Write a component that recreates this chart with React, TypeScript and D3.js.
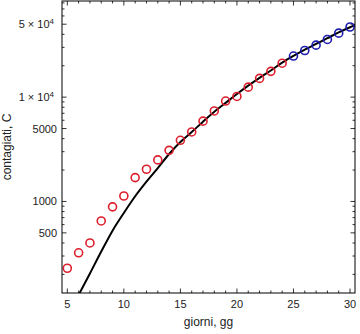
import React from "react";
import * as d3 from "d3";

const days = [5,6,7,8,9,10,11,12,13,14,15,16,17,18,19,20,21,22,23,24,25,26,27,28,29,30];
const cases = [229,322,400,650,888,1128,1694,2036,2502,3089,3858,4636,5883,7375,9172,10149,12462,15113,17660,21157,24747,27980,31506,35713,41035,47021];
const splitDay = 25; // from this day on points are blue

const modelDays = [6,7,8,9,10,11,12,13,14,15,16,17,18,19,20,21,22,23,24,25,26,27,28,29,30,30.44];
const modelValues = [127,204,331,525,776,1122,1549,2089,2851,3715,4624,5821,7244,8810,10715,12882,15311,17989,21380,24831,28510,32359,36728,41687,46774,48978];

const xTicks = [5,10,15,20,25,30];
const yLabeled = [500,1000,5000,10000,50000];

const W = 360, H = 334;
const L = 62, R = 355, T = 1, B = 293;

export default function App() {
  const x = d3.scaleLinear().domain([4.53, 30.44]).range([L, R]);
  const y = d3.scaleLog().domain([132.6, 83450]).range([B, T]);

  const line = d3.line<[number, number]>()
    .x(d => x(d[0]))
    .y(d => y(d[1]))
    .curve(d3.curveMonotoneX);
  const modelPath = line(modelDays.map((d, i) => [d, modelValues[i]]) as [number, number][]) || "";

  const xMinor = d3.range(5, 31);
  const yMinor: number[] = [];
  [100, 1000, 10000].forEach(dec => {
    for (let k = 1; k <= 9; k++) {
      const v = k * dec;
      if (v >= 132.6 && v <= 83450) yMinor.push(v);
    }
  });

  const red = "#dd1f2d";
  const blue = "#1c1cb0";
  const font = "Liberation Sans, Arial, Helvetica, sans-serif";

  const yLabel = (v: number) => {
    if (v >= 10000) {
      const m = v / 10000;
      return (
        <>
          <tspan>{`${m} × 10`}</tspan>
          <tspan fontSize={8} dy={-4.5}>4</tspan>
        </>
      );
    }
    return <tspan>{String(v)}</tspan>;
  };

  return (
    <svg width={W} height={H} style={{ position: "absolute", left: 0, top: 0, background: "#fff" }} fontFamily={font}>
      <defs>
        <clipPath id="plotclip">
          <rect x={L} y={T} width={R - L} height={B - T} />
        </clipPath>
      </defs>
      <rect x={0} y={0} width={W} height={H} fill="#fff" />

      {/* x ticks */}
      {xMinor.map(d => {
        const major = xTicks.includes(d);
        const len = major ? 4.5 : 2.5;
        return (
          <g key={"xt" + d} stroke="#000" strokeWidth={0.8}>
            <line x1={x(d)} x2={x(d)} y1={B} y2={B - len} />
            <line x1={x(d)} x2={x(d)} y1={T} y2={T + len} />
          </g>
        );
      })}
      {/* y ticks */}
      {yMinor.map(v => {
        const major = yLabeled.includes(v);
        const len = major ? 4.5 : 2.5;
        return (
          <g key={"yt" + v} stroke="#000" strokeWidth={0.8}>
            <line x1={L} x2={L + len} y1={y(v)} y2={y(v)} />
            <line x1={R} x2={R - len} y1={y(v)} y2={y(v)} />
          </g>
        );
      })}

      {/* x labels */}
      {xTicks.map(d => (
        <text key={"xl" + d} x={x(d)} y={307.5} fontSize={11} textAnchor="middle" fill="#222">{d}</text>
      ))}
      {/* y labels */}
      {yLabeled.map(v => (
        <text key={"yl" + v} x={v >= 10000 ? 54 : 57} y={y(v) + 4} fontSize={11} textAnchor="end" fill="#222">{yLabel(v)}</text>
      ))}

      {/* model curve */}
      <g clipPath="url(#plotclip)">
        <path d={modelPath} fill="none" stroke="#000" strokeWidth={2} />
      </g>

      {/* data points */}
      {days.map((d, i) => (
        <circle key={"p" + d} cx={x(d)} cy={y(cases[i])} r={4} fill="none"
          stroke={d >= splitDay ? blue : red} strokeWidth={1.6} />
      ))}

      {/* frame */}
      <rect x={L} y={T} width={R - L} height={B - T} fill="none" stroke="#000" strokeWidth={1} />

      {/* axis titles */}
      <text x={(L + R) / 2} y={326} fontSize={12} textAnchor="middle" fill="#222">giorni, gg</text>
      <text transform={`translate(11,${(T + B) / 2}) rotate(-90)`} fontSize={12} textAnchor="middle" fill="#222">contagiati, C</text>
    </svg>
  );
}
